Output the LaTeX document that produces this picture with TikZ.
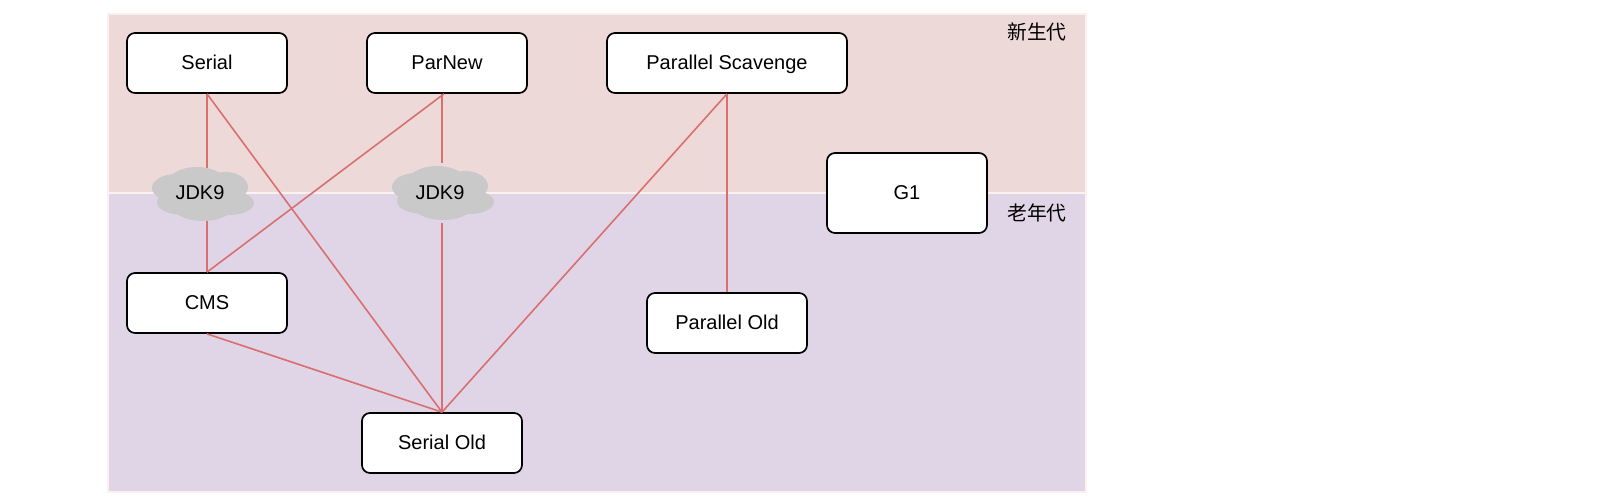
\documentclass[tikz,border=0pt]{standalone}
\usepackage{fontspec}
\setmainfont{Liberation Sans}
\newfontfamily\cjk{Noto Sans CJK SC}
\definecolor{youngbg}{HTML}{EED9D9}
\definecolor{oldbg}{HTML}{E0D5E6}
\definecolor{bgedge}{HTML}{FBF1EF}
\definecolor{linkred}{HTML}{D96F6F}
\definecolor{cloudgray}{HTML}{C9C9C9}
\tikzset{
  gcbox/.style={draw=black,line width=1.7pt,fill=white,rounded corners=8pt,minimum width=160pt,minimum height=60pt,inner sep=0pt,font=\fontsize{20pt}{23pt}\selectfont,text=black,text height=14.5pt,text depth=1.5pt,xshift=-0.5pt},
  link/.style={draw=linkred,line width=1.6pt},
  band/.style={draw=bgedge,line width=1.4pt,inner sep=0pt},
  lbl/.style={inner sep=0pt,font=\cjk\fontsize{19.8pt}{23pt}\selectfont,text=black},
  cloudtext/.style={inner sep=0pt,font=\fontsize{20pt}{23pt}\selectfont,text=black,text height=14.5pt,text depth=1.5pt},
  puff/.style={fill=cloudgray,draw=none}
}
\newcommand{\gccloud}[2]{%
  \begin{scope}[shift={(#1,#2)}]
    \fill[puff] (-6,-10) ellipse (30 and 17);
    \fill[puff] (-27,-6) ellipse (24 and 14);
    \fill[puff] (22,-7) ellipse (23 and 15);
    \fill[puff] (-23,8) ellipse (23 and 12.5);
    \fill[puff] (26,9) ellipse (25 and 12);
    \fill[puff] (0,9) ellipse (33 and 18);
    \fill[puff] (-30,-4) rectangle (30,8);
  \end{scope}}
\begin{document}
\begin{tikzpicture}[x=1pt,y=-1pt]
\useasboundingbox (0,0) rectangle (1620,502);
\fill[white] (0,0) rectangle (1620,502);
\filldraw[band,fill=youngbg] (108,14) rectangle (1086,193);
\filldraw[band,fill=oldbg] (108,193) rectangle (1086,492);
\node[lbl] (young) at (1037,31.5) {新生代};
\node[lbl] (old) at (1037,212.5) {老年代};

\node[gcbox] (serial) at (207.5,63) {Serial};
\node[gcbox] (parnew) at (447.5,63) {ParNew};
\node[gcbox,minimum width=240pt] (scavenge) at (727.5,63) {Parallel Scavenge};
\node[gcbox,minimum height=80pt] (g1) at (907.5,193) {G1};
\node[gcbox] (cms) at (207.5,303) {CMS};
\node[gcbox] (parold) at (727.5,323) {Parallel Old};
\node[gcbox] (serialold) at (442.5,443) {Serial Old};

\coordinate (parnewdown) at (serialold.north |- parnew.south);
\coordinate (parnewgapa) at (serialold.north |- 0,163);
\coordinate (parnewgapb) at (serialold.north |- 0,223);
\draw[link] (serial.south) -- (cms.north);
\draw[link] (serial.south) -- (serialold.north);
\draw[link] (parnewdown) -- (parnewgapa);
\draw[link] (parnewgapb) -- (serialold.north);
\draw[link] ([xshift=-3pt]parnew.south) -- (cms.north);
\draw[link] (scavenge.south) -- (serialold.north);
\draw[link] (scavenge.south) -- (parold.north);
\draw[link] (cms.south) -- (serialold.north);

\gccloud{203}{194}
\gccloud{443}{193}
\node[cloudtext] (jdka) at (200,193) {JDK9};
\node[cloudtext] (jdkb) at (440,193) {JDK9};
\end{tikzpicture}
\end{document}
